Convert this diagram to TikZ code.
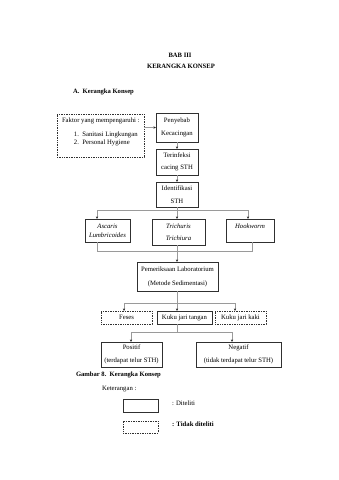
\documentclass[tikz,border=0pt]{standalone}
\usepackage{fontspec}
\setmainfont{Liberation Serif}
\usetikzlibrary{arrows.meta}
\definecolor{boxc}{HTML}{303030}
\definecolor{linec}{HTML}{9A9A9A}
\begin{document}
\begin{tikzpicture}[x=1pt,y=-1pt,
  every node/.style={inner sep=0pt,outer sep=0pt,font=\fontsize{6.7}{12.5}\selectfont},
  solidbox/.style={draw=boxc,line width=1pt,align=center},
  dashbox/.style={draw=boxc,line width=0.6pt,dash pattern=on 1pt off 0.7pt,align=center},
  conn/.style={draw=linec,line width=0.5pt},
  arr/.style={draw=linec,line width=0.5pt,-{Stealth[length=2.6pt,width=2.2pt,color=black!85]}},
  head/.style={font=\fontsize{6.6}{8}\selectfont\bfseries}
]
\useasboundingbox (0,0) rectangle (339,480);
\fill[white] (0,0) rectangle (339,480);

% headings
\node[head] (bab) at (180,55) {BAB III};
\node[head] (kk) at (181,66) {KERANGKA KONSEP};
\node[head,anchor=west] (sub) at (73,92) {A.\ \ Kerangka Konsep};

% faktor box
\node[dashbox,minimum width=87pt,minimum height=43pt] (faktor) at (100.5,135.5) {};
\node[anchor=west] (f0) at (62,121) {Faktor yang mempengaruhi :};
\node[anchor=west] (f1) at (74,134.5) {1.\ \ Sanitasi Lingkungan};
\node[anchor=west] (f2) at (74,143) {2.\ \ Personal Hygiene};

% main column
\node[solidbox,minimum width=42pt,minimum height=29pt] (penyebab) at (177,127.5) {Penyebab\\Kecacingan};
\node[solidbox,minimum width=42pt,minimum height=26pt] (terinfeksi) at (177,162) {Terinfeksi\\cacing STH};
\node[solidbox,minimum width=42pt,minimum height=25pt] (identifikasi) at (177,194.5) {Identifikasi\\STH};

\draw[arr] (faktor.east |- penyebab.west) -- (penyebab.west);
\draw[arr] (penyebab.south) -- (terinfeksi.north);
\draw[arr] (terinfeksi.south) -- (identifikasi.north);

% species
\node[solidbox,minimum width=45pt,minimum height=23pt,font=\fontsize{6.7}{9}\selectfont\itshape] (ascaris) at (107.5,230.5) {Ascaris\\Lumbricoides};
\node[solidbox,minimum width=53pt,minimum height=26pt,font=\fontsize{6.7}{11.5}\selectfont\itshape] (trichuris) at (178.5,232) {Trichuris\\Trichiura};
\node[solidbox,minimum width=48pt,minimum height=23pt] (hookworm) at (250,230.5) {};
\node[anchor=north,font=\fontsize{6.7}{8}\selectfont\itshape] (hooktxt) at (hookworm.north) [yshift=-5pt] {Hookworm};

\coordinate (b1) at (177,210);
\coordinate (b1l) at (97,210);
\coordinate (b1r) at (248,210);
\draw[conn] (identifikasi.south) -- (b1);
\draw[conn] (b1l) -- (b1r);
\draw[arr] (b1l) -- (b1l |- ascaris.north);
\draw[arr] (b1) -- (b1 |- trichuris.north);
\draw[arr] (b1r) -- (b1r |- hookworm.north);

% lab
\node[solidbox,minimum width=81pt,minimum height=29pt,font=\fontsize{6.7}{14}\selectfont] (lab) at (177.5,276.5) {Pemeriksaan Laboratorium\\(Metode Sedimentasi)};

\coordinate (j1) at (177,251);
\coordinate (j1l) at (97,251);
\coordinate (j1r) at (252,251);
\draw[conn] (j1l |- ascaris.south) -- (j1l) -- (j1r) -- (j1r |- hookworm.south);
\draw[conn] (j1 |- trichuris.south) -- (j1);
\draw[arr] (j1) -- (j1 |- lab.north);

% samples
\node[dashbox,minimum width=51pt,minimum height=13pt] (feses) at (126.5,317.5) {Feses};
\node[solidbox,minimum width=55pt,minimum height=13pt] (tangan) at (184.5,317.5) {Kuku jari tangan};
\node[dashbox,minimum width=51pt,minimum height=13pt] (kaki) at (240.5,317.5) {Kuku jari kaki};

\coordinate (b2) at (177,303);
\coordinate (b2l) at (124,303);
\coordinate (b2r) at (235,303);
\draw[conn] (j1 |- lab.south) -- (b2);
\draw[conn] (b2l) -- (b2r);
\draw[arr] (b2l) -- (b2l |- feses.north);
\draw[arr] (b2) -- (b2 |- tangan.north);
\draw[arr] (b2r) -- (b2r |- kaki.north);

% results
\node[solidbox,minimum width=61pt,minimum height=25pt,font=\fontsize{6.7}{13}\selectfont] (positif) at (131.5,354.5) {Positif\\(terdapat telur STH)};
\node[solidbox,minimum width=85pt,minimum height=25pt,font=\fontsize{6.7}{13}\selectfont] (negatif) at (238.5,354.5) {Negatif\\(tidak terdapat telur STH)};

\coordinate (b3) at (177,332);
\coordinate (b3l) at (131,332);
\coordinate (b3r) at (232,332);
\draw[conn] (b3 |- tangan.south) -- (b3);
\draw[conn] (b3l) -- (b3r);
\draw[arr] (b3l) -- (b3l |- positif.north);
\draw[arr] (b3r) -- (b3r |- negatif.north);

% caption and legend
\node[head,anchor=west] (cap) at (76,375) {Gambar 8.\ \ Kerangka Konsep};
\node[anchor=west] (ket) at (102,389) {Keterangan :};
\node[solidbox,minimum width=35pt,minimum height=13pt] (leg1) at (140.5,405.5) {};
\node[anchor=west] (leg1t) at (172,403) {: Diteliti};
\node[dashbox,minimum width=35pt,minimum height=12pt] (leg2) at (140.5,427) {};
\node[anchor=west,font=\fontsize{6.7}{8}\selectfont\bfseries] (leg2t) at (172,424) {: Tidak diteliti};
\end{tikzpicture}
\end{document}
